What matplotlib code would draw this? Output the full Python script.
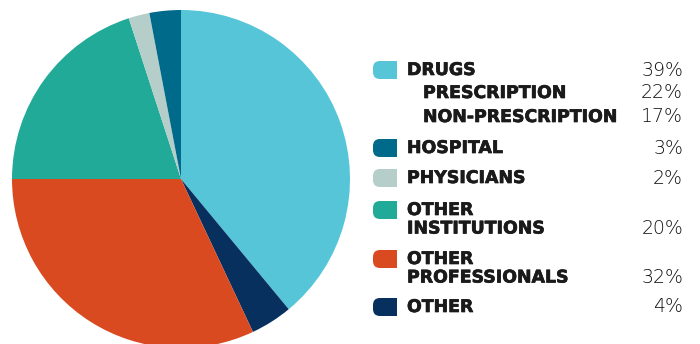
import matplotlib
matplotlib.use("Agg")
import matplotlib.pyplot as plt
import matplotlib.patheffects as pe
from matplotlib.patches import FancyBboxPatch, Rectangle

# Data (clockwise from top)
categories = ["DRUGS", "OTHER", "OTHER\nPROFESSIONALS", "OTHER\nINSTITUTIONS", "PHYSICIANS", "HOSPITAL"]
values = [39, 4, 32, 20, 2, 3]
colors = ["#56C5D8", "#07305F", "#DA4A21", "#21AA98", "#B5CECA", "#006A8A"]

# Legend rows
legend_labels = ["DRUGS", "PRESCRIPTION", "NON-PRESCRIPTION", "HOSPITAL", "PHYSICIANS",
                 "OTHER\nINSTITUTIONS", "OTHER\nPROFESSIONALS", "OTHER"]
legend_pcts = ["39%", "22%", "17%", "3%", "2%", "20%", "32%", "4%"]
legend_colors = ["#56C5D8", None, None, "#006A8A", "#B5CECA", "#21AA98", "#DA4A21", "#07305F"]
legend_indent = [0, 1, 1, 0, 0, 0, 0, 0]

W, H = 700, 344
fig = plt.figure(figsize=(7, 3.44), dpi=100)
fig.patch.set_facecolor("white")

# pie axes: center (181,179), radius 169 px
cx, cy, r = 181, 179, 169
ax = fig.add_axes([(cx - r) / W, (H - cy - r) / H, 2 * r / W, 2 * r / H])
ax.pie(values, colors=colors, startangle=90, counterclock=False, radius=1,
       wedgeprops=dict(linewidth=0))
ax.set_xlim(-1, 1)
ax.set_ylim(-1, 1)
ax.set_aspect("equal")
ax.axis("off")

# overlay axes in pixel coordinates for legend
lax = fig.add_axes([0, 0, 1, 1])
lax.set_xlim(0, W)
lax.set_ylim(H, 0)
lax.axis("off")

row_y = [70, 93, 117, 148, 178, 210, 259, 307]
mk_x, mk_w, mk_h = 373, 24, 18
text_x = 407
indent_x = 423
pct_x = 683
line_gap = 18.5
txt_col = "#1a1a1a"
bold = dict(family=["DejaVu Sans"], fontweight="bold", fontsize=12.5, color=txt_col,
            path_effects=[pe.withStroke(linewidth=0.5, foreground=txt_col)])
light = dict(family=["DejaVu Sans"], fontweight=200, fontsize=13.6, color="#111111")

for lab, pct, col, ind, y in zip(legend_labels, legend_pcts, legend_colors, legend_indent, row_y):
    if col is not None:
        rad = 7
        p = FancyBboxPatch((mk_x + rad, y - mk_h / 2 + rad), mk_w - 2 * rad, mk_h - 2 * rad,
                           boxstyle=f"round,pad={rad}", fc=col, ec="none", mutation_aspect=1)
        lax.add_patch(p)
        lax.add_patch(Rectangle((mk_x + mk_w / 2, y - mk_h / 2), mk_w / 2, mk_h, fc=col, ec="none"))
    lines = lab.split("\n")
    x = indent_x if ind else text_x
    for i, ln in enumerate(lines):
        lax.text(x, y + i * line_gap, ln, ha="left", va="center", **bold)
    lax.text(pct_x, y + (len(lines) - 1) * line_gap, pct, ha="right", va="center", **light)

fig.savefig("out.png", dpi=100, facecolor="white")
